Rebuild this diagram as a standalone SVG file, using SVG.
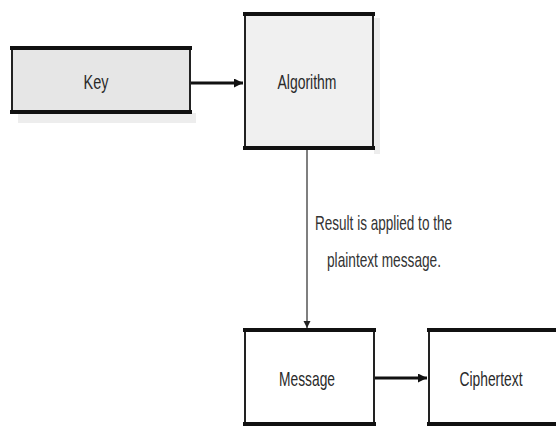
<svg xmlns="http://www.w3.org/2000/svg" width="556" height="427" viewBox="0 0 556 427">
<defs>
<style>
.box{stroke:#222;stroke-width:2}
.edge{stroke:#111;stroke-width:4;stroke-linecap:square}
.lbl{font-family:"Liberation Sans",Arial,sans-serif;font-size:21px;fill:#2a2a2a;text-anchor:middle}
.note{font-family:"Liberation Sans",Arial,sans-serif;font-size:21px;fill:#333}
.conn{stroke:#111;stroke-width:3;fill:none}
.vconn{stroke:#555;stroke-width:1.5;fill:none}
.shadow{fill:#ededed}
</style>
<marker id="ah" viewBox="0 0 10 10" refX="10" refY="5" markerWidth="3" markerHeight="3" orient="auto" markerUnits="strokeWidth">
<path d="M0,0 L10,5 L0,10 z" fill="#111"/>
</marker>
<marker id="ahv" viewBox="0 0 10 10" refX="10" refY="5" markerWidth="5" markerHeight="5" orient="auto" markerUnits="strokeWidth">
<path d="M0,0 L10,5 L0,10 z" fill="#222"/>
</marker>
</defs>
<rect width="556" height="427" fill="#fff"/>
<g id="key">
<rect class="shadow" x="18" y="113" width="178" height="10"/>
<rect class="box" x="12" y="48" width="178" height="65" fill="#e6e6e6"/>
<line class="edge" x1="12" y1="48" x2="190" y2="48"/>
<line class="edge" x1="12" y1="112" x2="190" y2="112"/>
<text class="lbl" x="96" y="89" textLength="25" lengthAdjust="spacingAndGlyphs">Key</text>
</g>
<g id="algorithm">
<rect class="shadow" x="374" y="18" width="6" height="136"/>
<rect class="box" x="245" y="14" width="128" height="135" fill="#f0f0f0"/>
<line class="edge" x1="245" y1="14" x2="373" y2="14"/>
<line class="edge" x1="245" y1="148" x2="373" y2="148"/>
<text class="lbl" x="307" y="89" textLength="59" lengthAdjust="spacingAndGlyphs">Algorithm</text>
</g>
<g id="message">
<rect class="box" x="245" y="330" width="129" height="94" fill="#fff"/>
<line class="edge" x1="245" y1="330" x2="374" y2="330"/>
<line class="edge" x1="245" y1="424" x2="374" y2="424"/>
<text class="lbl" x="307" y="386" textLength="56" lengthAdjust="spacingAndGlyphs">Message</text>
</g>
<g id="ciphertext">
<rect class="box" x="429" y="330" width="140" height="94" fill="#fff"/>
<line class="edge" x1="429" y1="330" x2="569" y2="330"/>
<line class="edge" x1="429" y1="424" x2="569" y2="424"/>
<text class="lbl" x="491" y="386" textLength="63" lengthAdjust="spacingAndGlyphs">Ciphertext</text>
</g>
<g id="connectors">
<line class="conn" x1="191" y1="83" x2="243" y2="83" marker-end="url(#ah)"/>
<line class="vconn" x1="307" y1="150" x2="307" y2="328" marker-end="url(#ahv)"/>
<line class="conn" x1="375" y1="378" x2="427" y2="378" marker-end="url(#ah)"/>
<text class="note" x="315" y="230" textLength="137" lengthAdjust="spacingAndGlyphs">Result is applied to the</text>
<text class="note" x="327" y="267" textLength="114" lengthAdjust="spacingAndGlyphs">plaintext message.</text>
</g>
</svg>
